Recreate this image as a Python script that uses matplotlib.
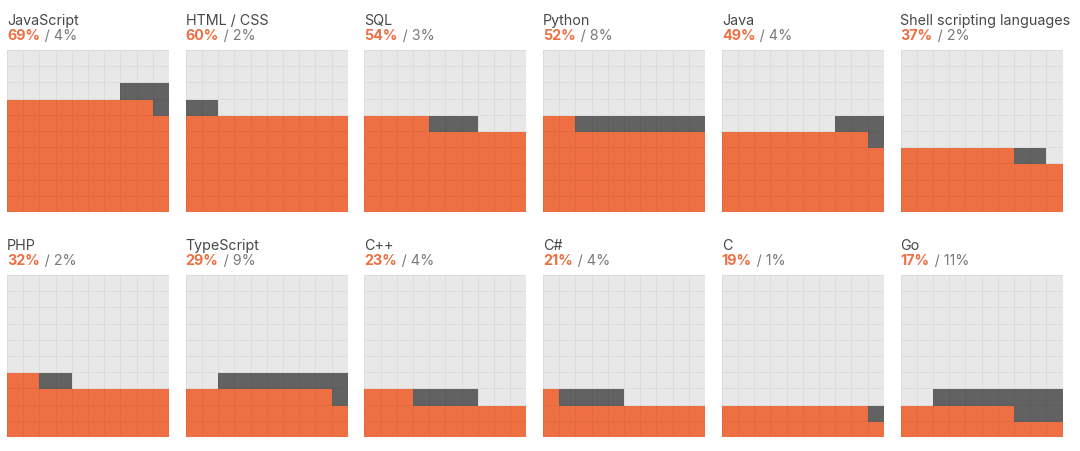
"""
Waffle grid of languages: share who use it vs share who want it.
"""

import numpy as np
import matplotlib
matplotlib.use("Agg")
import matplotlib.pyplot as plt
from matplotlib.colors import ListedColormap

plt.rcParams['font.family'] = ['Inter', 'DejaVu Sans']

languages = ["JavaScript", "HTML / CSS", "SQL", "Python", "Java",
             "Shell scripting languages", "PHP", "TypeScript", "C++", "C#",
             "C", "Go"]
used_pct = [69, 60, 54, 52, 49, 37, 32, 29, 23, 21, 19, 17]
want_pct = [4, 2, 3, 8, 4, 2, 2, 9, 4, 4, 1, 11]

ORANGE = "#ee6f42"
DARK = "#626262"
LIGHT = "#e8e8e8"
TITLE_COL = "#474747"
SUB_COL = "#7a7a7a"

W, H = 1080, 452


def waffle_matrix(used: int, want: int) -> np.ndarray:
    """10x10 matrix: 2 = used, 1 = want, 0 = empty. Row 0 is the bottom."""
    m = np.zeros((10, 10), dtype=int)
    for k in range(used):
        m[k // 10, k % 10] = 2
    # gray continues after orange, snaking back when it wraps a row
    r, c, step = used // 10, used % 10, 1
    for _ in range(want):
        m[r, c] = 1
        c += step
        if c > 9 or c < 0:
            step = -step
            c += step
            r += 1
    return m


def px(x, y):
    return x / W, 1 - y / H


fig = plt.figure(figsize=(W / 100, H / 100), dpi=100)
cmap = ListedColormap([LIGHT, DARK, ORANGE])

size = 162
for i, (name, u, w) in enumerate(zip(languages, used_pct, want_pct)):
    col, row = i % 6, i // 6
    left = 7 + col * 178.7
    top = 51 + row * 225
    ax = fig.add_axes([left / W, 1 - (top + size) / H, size / W, size / H])
    m = waffle_matrix(u, w)
    ax.pcolormesh(np.arange(11), np.arange(11), m, cmap=cmap, vmin=0, vmax=2,
                  edgecolors=(0, 0, 0, 0.05), linewidth=0.6)
    ax.set_xlim(0, 10)
    ax.set_ylim(0, 10)
    ax.set_axis_off()

    fig.text(*px(left, top - 26), name, fontsize=10.3, color=TITLE_COL,
             ha='left', va='baseline')
    t1 = fig.text(*px(left, top - 11), f"{u}%", fontsize=10.3,
                  color=ORANGE, weight='bold', ha='left', va='baseline')
    ax.annotate(f"\u2009/ {w}%", xy=(1, 0), xycoords=t1, fontsize=10.3,
                xytext=(1.5, 0), textcoords='offset points',
                color=SUB_COL, ha='left', va='bottom', annotation_clip=False)

fig.savefig("out.png", dpi=100)
